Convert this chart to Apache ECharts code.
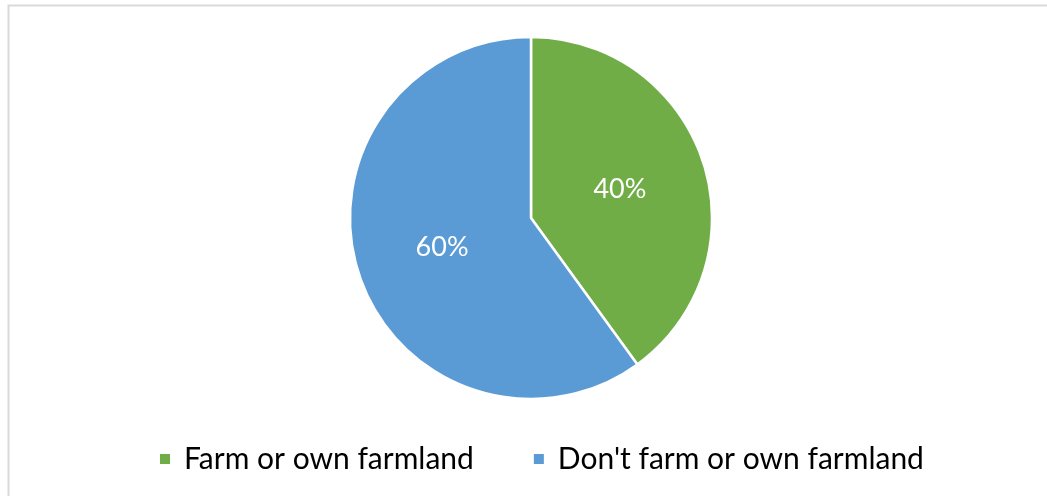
<!DOCTYPE html>
<html><head><meta charset="utf-8">
<script src="https://cdn.jsdelivr.net/npm/echarts@6/dist/echarts.min.js"></script>
<style>html,body{margin:0;padding:0;background:#fff}#c{width:1047px;height:496px}</style>
</head><body><div id="c"></div>
<script>
const categories = ["Farm or own farmland", "Don't farm or own farmland"];
const values = [40, 60];
const colors = ['#70ad47', '#5b9bd5'];

const chart = echarts.init(document.getElementById('c'), null, {renderer: 'canvas'});
chart.setOption({
  animation: false,
  graphic: [{
    type: 'rect', silent: true,
    shape: {x: 8.5, y: 5.5, width: 1100, height: 600},
    style: {fill: 'none', stroke: '#d9d9d9', lineWidth: 2}
  }],
  legend: {
    bottom: 17, left: 153,
    itemWidth: 12, itemHeight: 12, itemGap: 58,
    icon: 'rect',
    textStyle: {fontFamily: 'Lato', fontSize: 30, color: '#000', padding: [0, 0, 0, 8]},
    data: categories
  },
  series: [{
    type: 'pie',
    center: [531, 218], radius: 181,
    startAngle: 90, clockwise: true,
    itemStyle: {borderColor: '#fff', borderWidth: 2.5},
    label: {position: 'inside', formatter: '{d}%', color: '#fff', fontSize: 27, fontFamily: 'Lato'},
    labelLine: {show: false},
    data: categories.map((n, i) => ({name: n, value: values[i], itemStyle: {color: colors[i]}}))
  }]
});
</script></body></html>
